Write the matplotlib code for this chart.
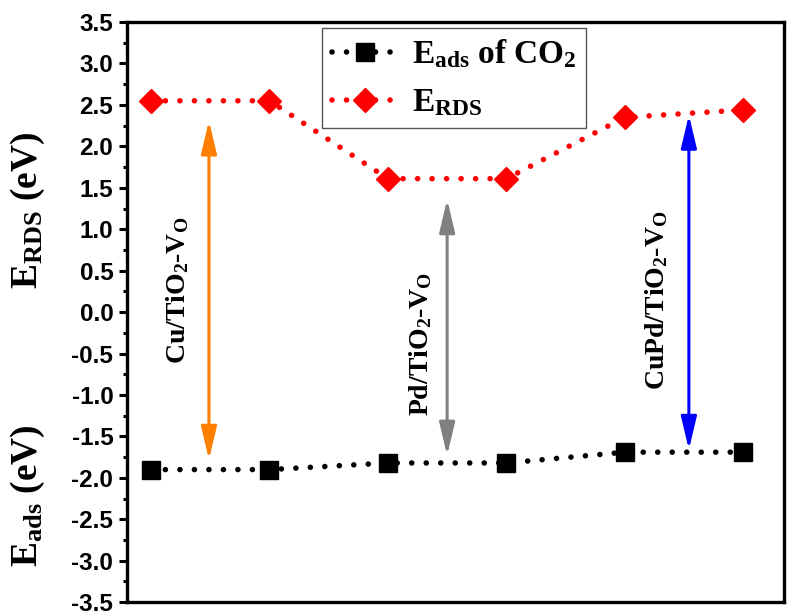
import numpy as np
import matplotlib
matplotlib.use("Agg")
import matplotlib.pyplot as plt
from matplotlib import font_manager

# values
sites = [1, 2, 3, 4, 5, 6]
e_rds = [2.55, 2.55, 1.61, 1.61, 2.35, 2.44]
e_ads = [-1.90, -1.90, -1.82, -1.82, -1.69, -1.69]

# double arrows: (x, top, bottom, colour), labels: (x, y, text)
arrows = [(1.49, 2.31, -1.78, "#ff7f00"),
          (3.50, 1.36, -1.73, "#808080"),
          (5.54, 2.38, -1.66, "#0000ff")]
labels = [(1.23, 0.26, r"Cu/TiO$_2$-V$_O$"),
          (3.28, -0.38, r"Pd/TiO$_2$-V$_O$"),
          (5.27, 0.15, r"CuPd/TiO$_2$-V$_O$")]

plt.rcParams["mathtext.fontset"] = "custom"
plt.rcParams["mathtext.rm"] = "Liberation Serif:bold"
plt.rcParams["mathtext.it"] = "Liberation Serif:bold"
plt.rcParams["mathtext.bf"] = "Liberation Serif:bold"

serif = dict(family="Liberation Serif", weight="bold")
tick_font = font_manager.FontProperties(family="Liberation Sans", weight="bold", size=17.5)
dots = (0, (0.01, 2.6))

fig = plt.figure(figsize=(7.9, 6.12), dpi=100)
ax = fig.add_axes([0.161, 0.016, 0.831, 0.948])

ax.plot(sites, e_ads, color="black", lw=4.0, ls=dots, dash_capstyle="round",
        marker="s", ms=13, label=r"E$_{ads}$ of CO$_2$")
ax.plot(sites, e_rds, color="red", lw=4.0, ls=dots, dash_capstyle="round",
        marker="D", ms=12, label=r"E$_{RDS}$")

for x, top, bot, c in arrows:
    ax.annotate("", xy=(x, top), xytext=(x, bot),
                arrowprops=dict(arrowstyle="<|-|>,head_length=0.8,head_width=0.19",
                                mutation_scale=25, color=c, lw=2.2,
                                shrinkA=0, shrinkB=0))
for x, y, t in labels:
    ax.text(x, y, t, rotation=90, ha="center", va="center", fontsize=20, **serif)

ax.set_xlim(0.8, 6.34)
ax.set_ylim(-3.5, 3.5)
ticks = np.arange(-3.5, 3.51, 0.5)
ax.set_yticks(ticks)
ax.set_yticks(np.arange(-3.5, 3.51, 0.25), minor=True)
ax.set_yticklabels([f"{v:.1f}" for v in ticks], fontproperties=tick_font)
ax.set_xticks([])
ax.tick_params(axis="y", which="major", length=6, width=2.2, direction="out", pad=4)
ax.tick_params(axis="y", which="minor", length=3, width=2.2, direction="out")
for s in ax.spines.values():
    s.set_linewidth(2.4)

ax.text(-0.151, 0.676, r"E$_{RDS}$ (eV)", transform=ax.transAxes, rotation=90,
        ha="center", va="center", fontsize=27, **serif)
ax.text(-0.151, 0.184, r"E$_{ads}$ (eV)", transform=ax.transAxes, rotation=90,
        ha="center", va="center", fontsize=27, **serif)

leg = ax.legend(loc="upper center", bbox_to_anchor=(0.498, 0.99),
                prop=dict(family="Liberation Serif", weight="bold", size=24),
                fancybox=False, edgecolor="#555555", framealpha=1,
                handlelength=2.0, borderpad=0.3, labelspacing=0.5,
                handletextpad=0.4, borderaxespad=0)
leg.get_frame().set_linewidth(1.0)

fig.savefig("out.png", dpi=100)
